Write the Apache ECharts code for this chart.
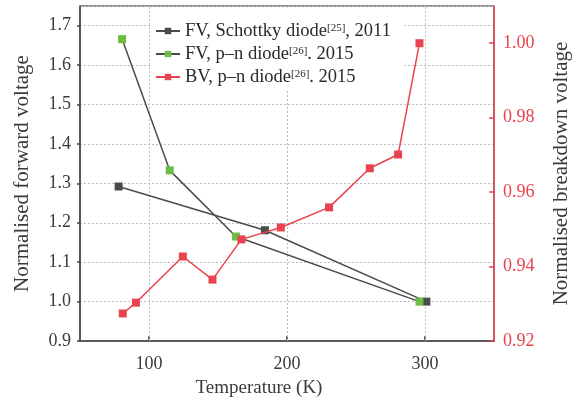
<!DOCTYPE html>
<html>
<head>
<meta charset="utf-8">
<script src="https://cdn.jsdelivr.net/npm/echarts@6/dist/echarts.min.js"></script>
<style>
  html, body { margin: 0; padding: 0; background: #fff; }
  #chart { width: 580px; height: 404px; }
</style>
</head>
<body>
<div id="chart"></div>
<script>
// Forward voltage (left axis) and breakdown voltage (right axis) vs. temperature
const fvSchottkyT = [78, 184, 301];
const fvSchottkyV = [1.292, 1.181, 1.0];

const fvPnT = [80.5, 115, 163, 296];
const fvPnV = [1.666, 1.333, 1.165, 1.0];

const bvPnT = [81, 90.5, 124.5, 146, 167, 195.5, 230.5, 260, 280.5, 296];
const bvPnV = [0.9274, 0.9303, 0.9427, 0.9365, 0.9473, 0.9505, 0.9559, 0.9664, 0.9701, 1.0];

const xTicks = [100, 200, 300];

const seriesNames = ['FV, Schottky diode, 2011', 'FV, p–n diode. 2015', 'BV, p–n diode. 2015'];
const legendLabels = {
  'FV, Schottky diode, 2011': '{a|FV, Schottky diode}{s|[25]}{a|, 2011}',
  'FV, p–n diode. 2015': '{a|FV, p–n diode}{s|[26]}{a|. 2015}',
  'BV, p–n diode. 2015': '{a|BV, p–n diode}{s|[26]}{a|. 2015}'
};

const FONT = '"Liberation Serif", "DejaVu Serif", serif';
const TEXT = '#3a3a3a';
const DARK = '#4b4b4b';
const GREEN = '#6cbd45';
const RED = '#e8434f';

const pairs = (xs, ys) => xs.map((x, i) => [x, ys[i]]);

const chart = echarts.init(document.getElementById('chart'), null, { renderer: 'canvas' });

chart.setOption({
  animation: false,
  backgroundColor: '#fff',
  textStyle: { fontFamily: FONT },
  grid: {
    left: 80, right: 84, top: 6, bottom: 63,
    show: true, borderColor: '#222', borderWidth: 1, backgroundColor: 'transparent'
  },
  legend: {
    orient: 'vertical',
    left: 150, top: 7.5,
    padding: [14, 11, 3, 5],
    itemGap: 3,
    itemWidth: 24, itemHeight: 8,
    backgroundColor: '#fff',
    data: seriesNames,
    formatter: name => legendLabels[name],
    textStyle: {
      color: '#2a2a2a',
      fontFamily: FONT,
      rich: {
        a: { fontSize: 18.5, fontFamily: FONT, color: '#2a2a2a', lineHeight: 21 },
        s: { fontSize: 11, fontFamily: FONT, color: '#2a2a2a', lineHeight: 21, verticalAlign: 'bottom', padding: [0, 0, 8, 0] }
      }
    }
  },
  xAxis: {
    type: 'value',
    min: 50, max: 350, interval: 50,
    name: 'Temperature (K)',
    nameLocation: 'middle',
    nameGap: 38,
    nameTextStyle: { fontSize: 19, color: TEXT, fontFamily: FONT, padding: [0, 56, 0, 0] },
    axisLine: { show: true, lineStyle: { color: '#444', width: 1.5 } },
    axisTick: { show: true, inside: true, length: 5, customValues: xTicks, lineStyle: { color: '#444', width: 1.5 } },
    axisLabel: { customValues: xTicks, fontSize: 18, color: TEXT, fontFamily: FONT, margin: 14 },
    splitLine: { show: false }
  },
  yAxis: [
    {
      type: 'value',
      min: 0.9, max: 1.75, interval: 0.1,
      name: 'Normalised forward voltage',
      nameLocation: 'middle',
      nameGap: 47,
      nameTextStyle: { fontSize: 21, color: TEXT, fontFamily: FONT },
      axisLine: { show: true, lineStyle: { color: '#444', width: 1.5 } },
      axisTick: { show: true, inside: false, length: 3, lineStyle: { color: '#444', width: 1.5 } },
      axisLabel: {
        fontSize: 18, color: TEXT, fontFamily: FONT, margin: 9, showMaxLabel: false,
        formatter: v => v.toFixed(1)
      },
      splitLine: { show: true, lineStyle: { color: '#bdbdbd', type: [2, 2], width: 1 } }
    },
    {
      type: 'value',
      position: 'right',
      min: 0.92, max: 1.01, interval: 0.02,
      name: 'Normalised breakdown voltage',
      nameLocation: 'middle',
      nameGap: 57,
      nameTextStyle: { fontSize: 21, color: TEXT, fontFamily: FONT },
      axisLine: { show: true, lineStyle: { color: RED, width: 1.5 } },
      axisTick: { show: true, inside: true, length: 5, lineStyle: { color: RED, width: 1.5 } },
      axisLabel: {
        fontSize: 18, color: RED, fontFamily: FONT, margin: 9, showMaxLabel: false,
        formatter: v => v.toFixed(2)
      },
      splitLine: { show: false }
    }
  ],
  series: [
    {
      name: seriesNames[0],
      type: 'line',
      yAxisIndex: 0,
      data: pairs(fvSchottkyT, fvSchottkyV),
      symbol: 'rect', symbolSize: 8,
      itemStyle: { color: DARK },
      lineStyle: { color: DARK, width: 1.5 },
      z: 3,
      markLine: {
        silent: true,
        symbol: 'none',
        label: { show: false },
        lineStyle: { color: '#bdbdbd', type: [2, 2], width: 1 },
        data: xTicks.map(t => ({ xAxis: t })),
        z: 1
      }
    },
    {
      name: seriesNames[1],
      type: 'line',
      yAxisIndex: 0,
      data: pairs(fvPnT, fvPnV),
      symbol: 'rect', symbolSize: 8,
      itemStyle: { color: GREEN },
      lineStyle: { color: DARK, width: 1.5 },
      z: 4
    },
    {
      name: seriesNames[2],
      type: 'line',
      yAxisIndex: 1,
      data: pairs(bvPnT, bvPnV),
      symbol: 'rect', symbolSize: 8,
      itemStyle: { color: RED },
      lineStyle: { color: RED, width: 1.5 },
      z: 5
    }
  ]
});
</script>
</body>
</html>
